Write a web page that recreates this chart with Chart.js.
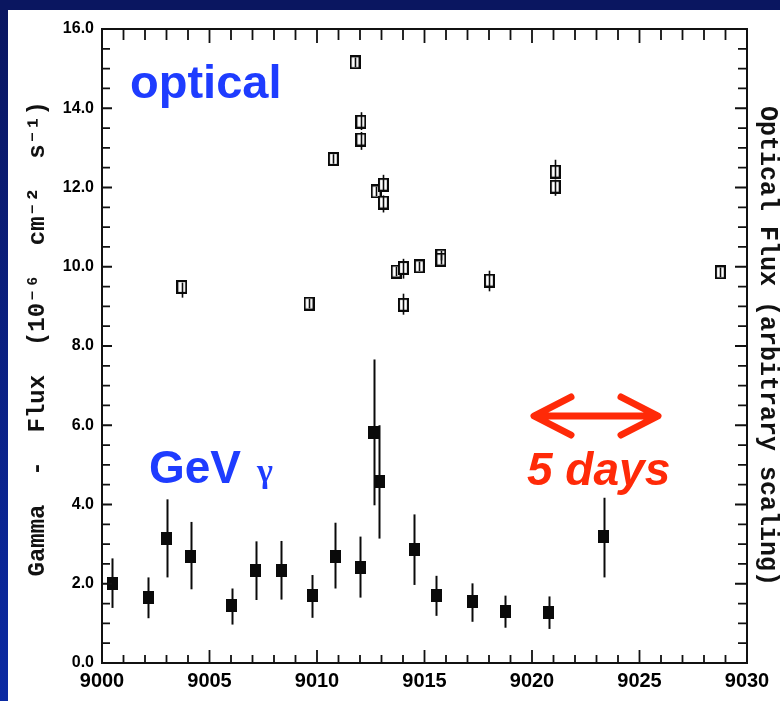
<!DOCTYPE html>
<html><head><meta charset="utf-8">
<script src="https://cdn.jsdelivr.net/npm/chart.js@4"></script>
<style>html,body{margin:0;padding:0;background:#fff;overflow:hidden}canvas{display:block}</style>
</head><body>
<canvas id="c" width="780" height="701"></canvas>
<script>
// ---- data ----
const xTickValues = [9000, 9005, 9010, 9015, 9020, 9025, 9030];
const yTickValues = [0, 2, 4, 6, 8, 10, 12, 14, 16];

const gammaDays = [9000.48, 9002.14, 9003.02, 9004.13, 9006.04, 9007.15, 9008.33, 9009.77, 9010.84, 9012.01, 9012.64, 9012.90, 9014.52, 9015.54, 9017.22, 9018.75, 9020.77, 9023.33];
const gammaFlux = [2.01, 1.65, 3.14, 2.70, 1.44, 2.34, 2.34, 1.70, 2.70, 2.41, 5.81, 4.58, 2.87, 1.71, 1.54, 1.29, 1.28, 3.18];
const gammaLow  = [1.39, 1.13, 2.16, 1.86, 0.97, 1.59, 1.60, 1.14, 1.88, 1.65, 3.98, 3.14, 1.97, 1.19, 1.04, 0.89, 0.86, 2.16];
const gammaHigh = [2.64, 2.16, 4.13, 3.56, 1.88, 3.07, 3.08, 2.22, 3.54, 3.19, 7.66, 6.00, 3.75, 2.20, 2.01, 1.70, 1.68, 4.17];

const opticalDays = [9003.71, 9009.63, 9010.76, 9011.77, 9012.04, 9012.04, 9012.75, 9013.09, 9013.09, 9013.68, 9014.02, 9014.02, 9014.76, 9015.76, 9015.76, 9018.02, 9021.08, 9021.08, 9028.76];
const opticalFlux = [9.49, 9.07, 12.72, 15.16, 13.66, 13.21, 11.90, 12.07, 11.62, 9.88, 9.97, 9.04, 10.01, 10.28, 10.18, 9.65, 12.40, 12.02, 9.86];
const opticalLow  = [9.22, 8.95, 12.60, 15.04, 13.45, 12.95, 11.78, 11.90, 11.37, 9.76, 9.70, 8.79, 9.89, 10.16, 10.06, 9.38, 12.22, 11.79, 9.74];
const opticalHigh = [9.60, 9.19, 12.84, 15.28, 13.90, 13.40, 12.02, 12.32, 11.80, 10.00, 10.20, 9.32, 10.13, 10.40, 10.30, 9.90, 12.70, 12.20, 9.98];

// ---- marker images ----
function filledBox() {
  const c = document.createElement('canvas'); c.width = 11; c.height = 13;
  const g = c.getContext('2d'); g.fillStyle = '#0a0a0a'; g.fillRect(0, 0, 11, 13); return c;
}
function openBox() {
  const c = document.createElement('canvas'); c.width = 11; c.height = 14;
  const g = c.getContext('2d'); g.fillStyle = '#fff'; g.fillRect(0, 0, 11, 14);
  g.strokeStyle = '#0a0a0a'; g.lineWidth = 2.2; g.strokeRect(1, 1, 9, 12); return c;
}

const toPts = (xs, ys) => xs.map((x, i) => ({x: x, y: ys[i]}));

const bgPlugin = {
  id: 'bg',
  beforeDraw(chart) {
    const ctx = chart.ctx;
    ctx.save();
    ctx.fillStyle = '#fff'; ctx.fillRect(0, 0, 780, 701);
    const gr = ctx.createLinearGradient(0, 0, 0, 701);
    gr.addColorStop(0, '#0a1660'); gr.addColorStop(1, '#0b2aa3');
    ctx.fillStyle = gr; ctx.fillRect(0, 0, 8, 701);
    ctx.fillStyle = '#0a1660'; ctx.fillRect(0, 0, 780, 10);
    ctx.restore();
  }
};

const framePlugin = {
  id: 'frame',
  afterDatasetsDraw(chart) {
    const ctx = chart.ctx, a = chart.chartArea, xs = chart.scales.x, ys = chart.scales.y;
    ctx.save();
    // error bars
    const bars = [[gammaDays, gammaLow, gammaHigh, 2], [opticalDays, opticalLow, opticalHigh, 1.6]];
    ctx.strokeStyle = '#0a0a0a';
    bars.forEach(([d, lo, hi, w]) => {
      ctx.lineWidth = w;
      d.forEach((x, i) => {
        const px = Math.round(xs.getPixelForValue(x)) + 0.5;
        ctx.beginPath();
        ctx.moveTo(px, ys.getPixelForValue(lo[i]));
        ctx.lineTo(px, ys.getPixelForValue(hi[i]));
        ctx.stroke();
      });
    });
    // frame
    ctx.lineWidth = 2; ctx.strokeStyle = '#111';
    ctx.strokeRect(a.left, a.top, a.right - a.left, a.bottom - a.top);
    // inward ticks
    ctx.lineWidth = 1.8;
    ctx.beginPath();
    for (let d = 9001; d < 9030; d++) {
      const px = xs.getPixelForValue(d), major = d % 5 === 0;
      ctx.moveTo(px, a.bottom); ctx.lineTo(px, a.bottom - (major ? 13 : 8));
      ctx.moveTo(px, a.top); ctx.lineTo(px, a.top + (major ? 14 : 11));
    }
    for (let v = 0.5; v < 16; v += 0.5) {
      const py = ys.getPixelForValue(v), major = v % 2 === 0;
      ctx.moveTo(a.left, py); ctx.lineTo(a.left + (major ? 10 : 8), py);
      ctx.moveTo(a.right, py); ctx.lineTo(a.right - (major ? 12 : 9), py);
    }
    ctx.stroke();
    // annotations
    ctx.textAlign = 'left'; ctx.textBaseline = 'alphabetic';
    ctx.fillStyle = '#1e3cff';
    ctx.font = 'bold 47px "Liberation Sans", Arial, sans-serif';
    ctx.fillText('optical', 130, 98);
    ctx.font = 'bold 46px "Liberation Sans", Arial, sans-serif';
    ctx.fillText('GeV', 149, 483);
    ctx.font = 'bold 34px "Liberation Serif", serif';
    ctx.fillText('γ', 257, 482);
    const red = '#ff2a08';
    ctx.fillStyle = red;
    ctx.font = 'italic bold 46px "Liberation Sans", Arial, sans-serif';
    ctx.fillText('5 days', 527, 485);
    ctx.strokeStyle = red; ctx.lineWidth = 7; ctx.lineCap = 'round'; ctx.lineJoin = 'round';
    ctx.beginPath();
    ctx.moveTo(535, 416); ctx.lineTo(657, 416);
    ctx.moveTo(571, 397); ctx.lineTo(534, 416); ctx.lineTo(571, 435);
    ctx.moveTo(621, 397); ctx.lineTo(658, 416); ctx.lineTo(621, 435);
    ctx.stroke();
    ctx.restore();
  }
};

new Chart(document.getElementById('c'), {
  type: 'scatter',
  data: {
    datasets: [
      {label: 'GeV gamma', data: toPts(gammaDays, gammaFlux), pointStyle: filledBox(), pointRadius: 6, showLine: false},
      {label: 'optical', data: toPts(opticalDays, opticalFlux), pointStyle: openBox(), pointRadius: 6, showLine: false}
    ]
  },
  options: {
    responsive: false, animation: false,
    layout: {padding: {top: 29, left: 0, right: 0, bottom: 0}},
    plugins: {legend: {display: false}, tooltip: {enabled: false}},
    scales: {
      x: {
        type: 'linear', min: 9000, max: 9030,
        afterBuildTicks: s => { s.ticks = xTickValues.map(v => ({value: v})); },
        ticks: {callback: v => String(v), color: '#000', font: {family: '"Liberation Sans Narrow", "Liberation Sans", Arial, sans-serif', weight: 'bold', size: 20}, padding: 6, maxRotation: 0, autoSkip: false},
        grid: {display: false, drawTicks: false}, border: {display: false},
        afterFit: s => { s.height = 38; }
      },
      y: {
        type: 'linear', min: 0, max: 16, position: 'left',
        afterBuildTicks: s => { s.ticks = yTickValues.map(v => ({value: v})); },
        ticks: {callback: v => v.toFixed(1), color: '#000', font: {family: '"Liberation Sans", Arial, sans-serif', weight: 'bold', size: 16}, padding: 8},
        grid: {display: false, drawTicks: false}, border: {display: false},
        title: {display: true, text: ' Gamma  -  Flux  (10⁻⁶  cm⁻²  s⁻¹)', color: '#111',
                font: {family: '"Liberation Mono", "DejaVu Sans Mono", monospace', weight: 'bold', size: 24, lineHeight: 1},
                padding: {top: 26, bottom: 0}},
        afterFit: s => { s.width = 102; }
      },
      y2: {
        type: 'linear', min: 0, max: 16, position: 'right',
        ticks: {display: false},
        grid: {display: false, drawTicks: false}, border: {display: false},
        title: {display: true, text: 'Optical Flux (arbitrary scaling)', color: '#111',
                font: {family: '"Liberation Mono", "DejaVu Sans Mono", monospace', weight: 'bold', size: 25, lineHeight: 1},
                padding: {top: 0, bottom: 0}},
        afterFit: s => { s.width = 33; }
      }
    }
  },
  plugins: [bgPlugin, framePlugin]
});
</script>
</body></html>
